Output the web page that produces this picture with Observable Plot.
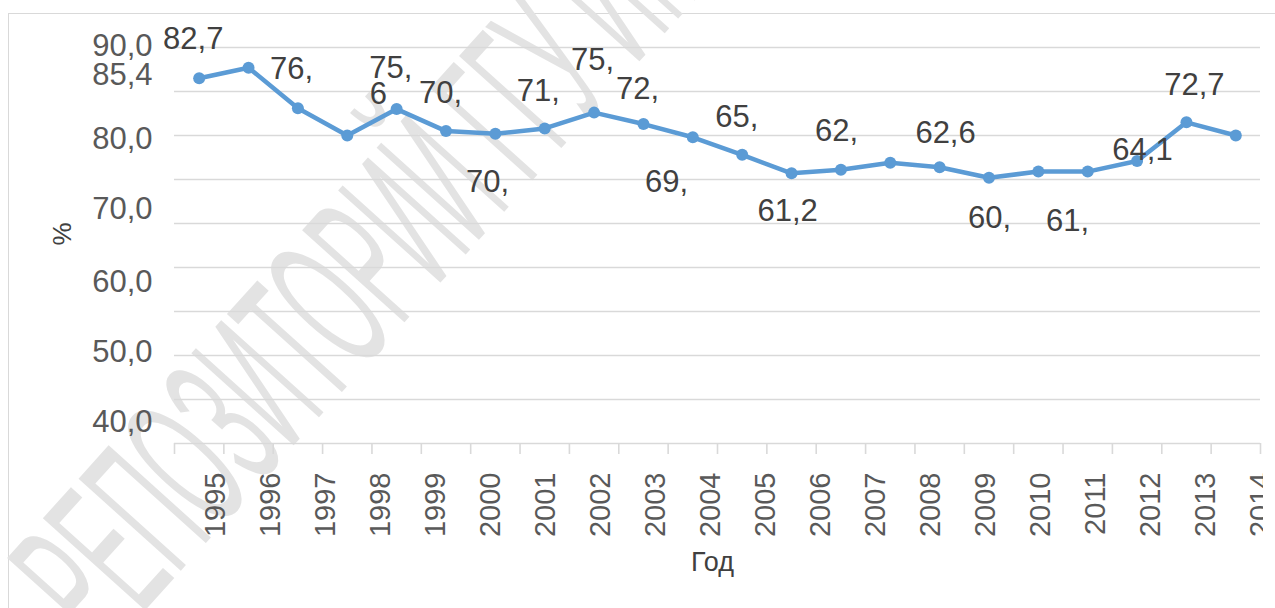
<!DOCTYPE html>
<html><head><meta charset="utf-8">
<script src="https://cdn.jsdelivr.net/npm/d3@7"></script>
<script src="https://cdn.jsdelivr.net/npm/@observablehq/plot@0.6"></script>
<style>
html,body{margin:0;padding:0;background:#fff;}
#wrap{position:relative;width:1275px;height:608px;overflow:hidden;font-family:"Liberation Sans",Arial,sans-serif;}
#frame{position:absolute;left:8px;top:13px;width:1400px;height:800px;border:1.5px solid #d9d9d9;box-sizing:border-box;}
.layer{position:absolute;left:0;top:0;}
.layer svg{max-width:none !important;}
#wm{position:absolute;left:0;top:0;}
</style></head><body>
<div id="wrap">
  <div id="frame"></div>
  <svg id="wm" width="1275" height="608"></svg>
  <div id="main" class="layer"></div>
  <div id="years" class="layer" style="width:1263px;height:608px;overflow:hidden"></div>
</div>
<script>
// ---- data ----
const pointYears = [1995,1996,1997,1998,1999,2000,2001,2002,2003,2004,2005,2006,2007,2008,2009,2010,2011,2012,2013,2014,2015,2016];
const shareValues = [81.5,82.7,78.1,75.0,78.0,75.5,75.2,75.8,77.6,76.3,74.8,72.8,70.7,71.1,71.9,71.4,70.2,70.9,70.9,72.1,76.5,75.0];
const yearLabels = ["1995","1996","1997","1998","1999","2000","2001","2002","2003","2004","2005","2006","2007","2008","2009","2010","2011","2012","2013","2014"];
const gridValues = [40,45,50,55,60,65,70,75,80,85];
const yTickValues = [85.2,81.9,74.6,66.6,58.4,50.4,42.4];
const yTickLabels = ["90,0","85,4","80,0","70,0","60,0","50,0","40,0"];
// data labels as printed, anchored in data coordinates (year, value)
const labelTexts  = ["82,7","76,","75,","6","70,","70,","71,","75,","72,","69,","65,","61,2","62,","62,6","60,","61,","64,1","72,7"];
const labelYears  = [1995.38,1997.37,1999.38,1999.13,2000.39,2001.34,2002.37,2003.47,2004.38,2004.97,2006.39,2007.42,2008.41,2010.62,2011.51,2013.09,2014.61,2015.66];
const labelValues = [86.0,82.5,82.7,79.7,79.8,69.7,80.0,83.6,80.3,69.7,77.1,66.4,75.5,75.3,65.6,65.3,73.4,80.7];
const xTitle = "Год";
const yTitle = "%";
const watermark = "РЕПОЗИТОРИЙ ГГУ ИМЕНИ Ф. СКОРИНЫ";

const FONT = '"Liberation Sans", Arial, sans-serif';
const points = pointYears.map((y, i) => ({year: y, value: shareValues[i]}));
const labels = labelTexts.map((t, i) => ({text: t, year: labelYears[i], value: labelValues[i]}));

// watermark (background scan artefact)
(function(){
  const svg = d3.select("#wm");
  svg.append("text")
    .attr("transform", "translate(105,655) rotate(-48)")
    .attr("font-family", FONT)
    .attr("font-size", 200)
    .attr("textLength", 1620)
    .attr("lengthAdjust", "spacingAndGlyphs")
    .attr("fill", "#e3e3e3")
    .text(watermark);
})();

const main = Plot.plot({
  width: 1275, height: 608,
  marginLeft: 174, marginRight: 15, marginTop: 47, marginBottom: 165,
  style: {fontFamily: FONT, background: "transparent", overflow: "visible"},
  x: {type: "linear", domain: [1995, 2017], axis: null, label: null},
  y: {domain: [40, 85], axis: null, label: null},
  marks: [
    Plot.ruleY(gridValues, {stroke: "#d9d9d9", strokeWidth: 1.6}),
    Plot.axisX({ticks: d3.range(1995, 2018), tickSize: 11, tickFormat: () => "", label: null, stroke: "#d9d9d9", strokeWidth: 1.6}),
    Plot.text(yTickValues, {y: d => d, text: (d, i) => yTickLabels[i], frameAnchor: "left", textAnchor: "end", dx: -22, fontSize: 31, fill: "#595959"}),
    Plot.line(points, {x: d => d.year + 0.5, y: "value", stroke: "#5B9BD5", strokeWidth: 4.5, strokeLinejoin: "round", strokeLinecap: "round"}),
    Plot.dot(points, {x: d => d.year + 0.5, y: "value", r: 6, fill: "#5B9BD5", stroke: "none"}),
    Plot.text(labels, {x: "year", y: "value", text: "text", fontSize: 31, fill: "#404040"}),
    Plot.text([yTitle], {frameAnchor: "left", dx: -112, rotate: -90, fontSize: 26, fill: "#404040"}),
    Plot.text([xTitle], {frameAnchor: "bottom", dx: -5, dy: 127, fontSize: 27, fill: "#404040"})
  ]
});
main.style.maxWidth = "none";
document.getElementById("main").appendChild(main);

const years = Plot.plot({
  width: 1290, height: 608,
  marginLeft: 168, marginRight: 6, marginTop: 472, marginBottom: 0,
  style: {fontFamily: FONT, background: "transparent", overflow: "visible"},
  x: {type: "band", domain: yearLabels, padding: 0, axis: null, label: null},
  marks: [
    Plot.text(yearLabels, {x: d => d, frameAnchor: "top", rotate: -90, textAnchor: "end", fontSize: 29, fill: "#595959"})
  ]
});
years.style.maxWidth = "none";
document.getElementById("years").appendChild(years);
</script>
</body></html>
